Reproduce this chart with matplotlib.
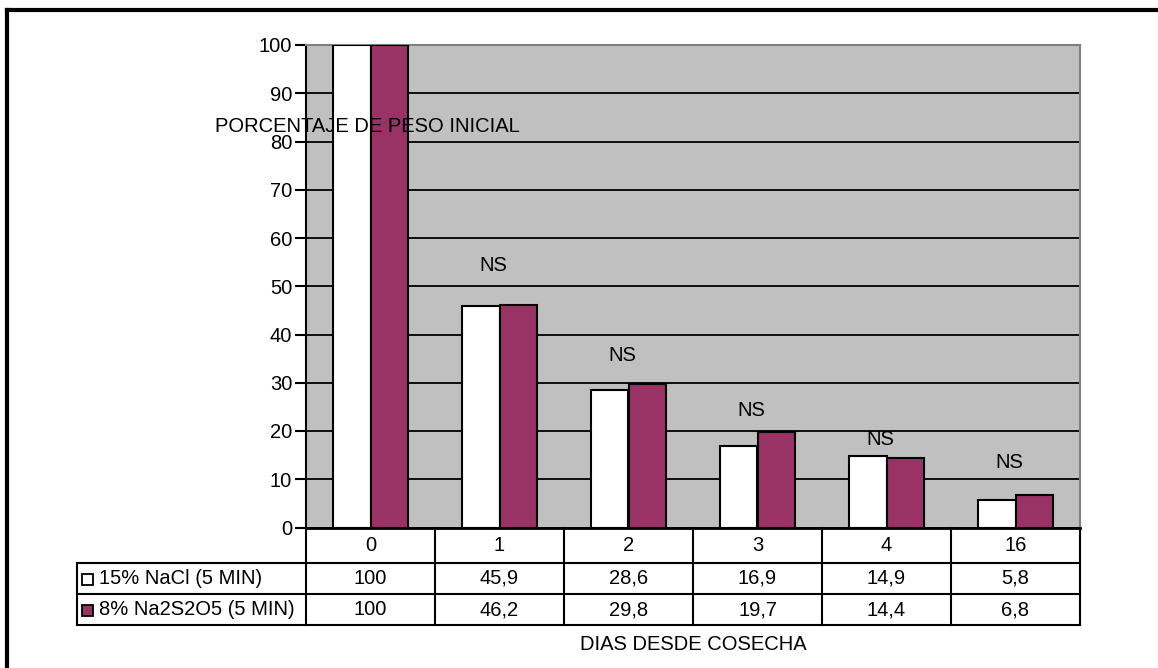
import matplotlib.pyplot as plt
from matplotlib.transforms import blended_transform_factory
from matplotlib.patches import Rectangle
from matplotlib.lines import Line2D

plt.rcParams['font.family'] = ['Liberation Sans', 'DejaVu Sans']

# datos: porcentaje de peso inicial por dia desde cosecha
dias = ['0', '1', '2', '3', '4', '16']
nacl = [100, 45.9, 28.6, 16.9, 14.9, 5.8]
na2s2o5 = [100, 46.2, 29.8, 19.7, 14.4, 6.8]
series_names = ['15% NaCl (5 MIN)', '8% Na2S2O5 (5 MIN)']
ns_labels = ['', 'NS', 'NS', 'NS', 'NS', 'NS']
ns_y = [0, 54.4, 35.7, 24.3, 18.3, 13.5]

W, H = 1158, 668
fig = plt.figure(figsize=(W / 100, H / 100), dpi=100)
FS = 14.5


def fx(px):
    return px / W


def fy(py):
    return 1 - py / H


# marco exterior
fig.add_artist(Line2D([fx(7), fx(7)], [fy(10), 0], color='black', lw=3))
fig.add_artist(Line2D([fx(7), 1], [fy(10), fy(10)], color='black', lw=3))

left, right, top, bottom = 306, 1080, 45, 527.5
ax = fig.add_axes([fx(left), fy(bottom), fx(right - left), (bottom - top) / H])
ax.set_facecolor('#C0C0C0')
n = len(dias)
ax.set_xlim(0, n)
ax.set_ylim(0, 100)
ax.set_yticks(range(0, 101, 10))
ax.set_xticks([])
ax.tick_params(axis='y', length=8, width=1.5, labelsize=FS, pad=2)
ax.yaxis.grid(True, color='black', lw=1.3)
ax.set_axisbelow(True)
for s in ['top', 'right']:
    ax.spines[s].set_color('#808080')
    ax.spines[s].set_linewidth(1.5)
ax.spines['left'].set_linewidth(1.5)
ax.spines['bottom'].set_linewidth(2)

bw = 0.29
centers = [i + 0.5 for i in range(n)]
ax.bar([c - bw / 2 for c in centers], nacl, width=bw, color='white',
       edgecolor='black', lw=1.5, zorder=3)
ax.bar([c + bw / 2 for c in centers], na2s2o5, width=bw, color='#993366',
       edgecolor='black', lw=1.5, zorder=3)

for c, lab, y in zip(centers, ns_labels, ns_y):
    if lab:
        ax.text(c - 0.05, y, lab, ha='center', va='center', fontsize=FS, zorder=4)

# tabla de datos bajo el eje
tr = blended_transform_factory(ax.transData, fig.transFigure)
rows = [527.5, 563, 594, 625]
for xb in range(n + 1):
    ax.add_line(Line2D([xb, xb], [fy(rows[0]), fy(rows[-1])], transform=tr,
                       color='black', lw=1.5, clip_on=False))
for ry in rows[1:]:
    fig.add_artist(Line2D([fx(77), fx(right)], [fy(ry), fy(ry)], color='black', lw=1.5))
fig.add_artist(Line2D([fx(77), fx(77)], [fy(rows[1]), fy(rows[-1])], color='black', lw=1.5))

for c, d in zip(centers, dias):
    ax.text(c, fy((rows[0] + rows[1]) / 2), d, transform=tr, ha='center',
            va='center', fontsize=FS, clip_on=False)
for r, vals in enumerate([nacl, na2s2o5]):
    ymid = fy((rows[r + 1] + rows[r + 2]) / 2)
    for c, v in zip(centers, vals):
        ax.text(c, ymid, f'{v:g}'.replace('.', ','), transform=tr, ha='center',
                va='center', fontsize=FS, clip_on=False)

colors = ['white', '#993366']
for r, (name, col) in enumerate(zip(series_names, colors)):
    ymid = (rows[r + 1] + rows[r + 2]) / 2
    fig.add_artist(Rectangle((fx(82), fy(ymid + 6)), fx(11), 11 / H,
                             facecolor=col, edgecolor='black', lw=1.3))
    fig.text(fx(99), fy(ymid), name, ha='left', va='center', fontsize=FS)

fig.text(fx(367), fy(127), 'PORCENTAJE DE PESO INICIAL', ha='center',
         va='center', fontsize=FS, zorder=10)
fig.text(fx(693), fy(645), 'DIAS DESDE COSECHA', ha='center', va='center',
         fontsize=FS)

fig.savefig('out.png', dpi=100)
